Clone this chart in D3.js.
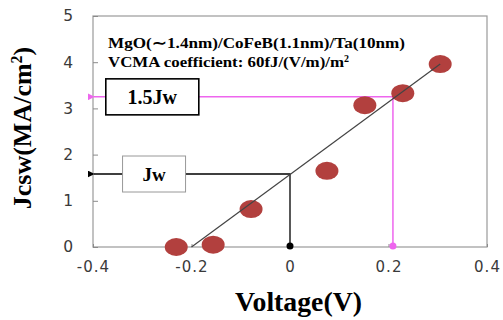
<!DOCTYPE html>
<html>
<head>
<meta charset="utf-8">
<script src="https://cdn.jsdelivr.net/npm/d3@7"></script>
<style>
  body { margin: 0; background: #fff; }
  svg { display: block; }
</style>
</head>
<body>
<svg id="chart" width="503" height="320"></svg>
<script>
const voltage = [-0.231, -0.156, -0.079, 0.075, 0.152, 0.229, 0.305];
const jcsw    = [0, 0.05, 0.82, 1.65, 3.07, 3.33, 3.96];

// fitted line ends
const fitV = [-0.2, 0.305];
const fitJ = [0, 3.96];

// guide markers (Jw at 0V, 1.5Jw at ~0.21V)
const guideV = [0, 0.209];
const guideJ = [1.58, 3.25];
const guideLabels = ['Jw', '1.5Jw'];

const xTicks = [-0.4, -0.2, 0, 0.2, 0.4];
const yTicks = [0, 1, 2, 3, 4, 5];

const noteLines = ['MgO(\u223C1.4nm)/CoFeB(1.1nm)/Ta(10nm)', 'VCMA coefficient: 60fJ/(V/m)/m'];

const svg = d3.select('#chart');
const margin = { top: 16, right: 16, bottom: 73, left: 93 };
const width = 503, height = 320;
const w = width - margin.left - margin.right;
const h = height - margin.top - margin.bottom;

const x = d3.scaleLinear().domain([-0.4, 0.4]).range([0, w]);
const y = d3.scaleLinear().domain([0, 5]).range([h, 0]);

const g = svg.append('g').attr('transform', `translate(${margin.left},${margin.top})`);

const serif = '"Liberation Serif", "Times New Roman", serif';
const sans = '"DejaVu Sans", Verdana, sans-serif';

// defs for arrows
const defs = svg.append('defs');
[['arr-black', '#000'], ['arr-pink', '#ee66ee']].forEach(([id, c]) => {
  defs.append('marker')
    .attr('id', id)
    .attr('viewBox', '0 0 10 10')
    .attr('refX', 1).attr('refY', 5)
    .attr('markerWidth', 7).attr('markerHeight', 7)
    .attr('markerUnits', 'userSpaceOnUse')
    .attr('orient', 'auto-start-reverse')
    .append('path').attr('d', 'M0,5 L10,0 L10,10 Z').attr('fill', c);
});

// plot box
g.append('rect')
  .attr('x', 0).attr('y', 0).attr('width', w).attr('height', h)
  .attr('fill', 'none').attr('stroke', '#9a9a9a').attr('stroke-width', 1.2);

// y axis ticks + labels
const yAxis = g.append('g')
  .call(d3.axisLeft(y).tickValues(yTicks).tickSize(-5).tickPadding(20).tickFormat(d3.format('d')));
yAxis.select('.domain').remove();
yAxis.selectAll('line').attr('stroke', '#8a8a8a');
yAxis.selectAll('text')
  .attr('font-family', sans).attr('font-size', 15.5).attr('fill', '#3a3a3a');

// x axis ticks + labels (plain hyphen like the original)
const xAxis = g.append('g')
  .attr('transform', `translate(0,${h})`)
  .call(d3.axisBottom(x).tickValues(xTicks).tickSize(-3).tickPadding(14)
    .tickFormat(d => d === 0 ? '0' : d.toFixed(1)));
xAxis.select('.domain').remove();
xAxis.selectAll('line').attr('stroke', '#8a8a8a');
xAxis.selectAll('text')
  .attr('font-family', sans).attr('font-size', 15).attr('letter-spacing', 1)
  .attr('fill', '#3a3a3a');

// guide lines (Jw black, 1.5Jw pink)
const guideColors = ['#000', '#ee66ee'];
const guideArrows = ['arr-black', 'arr-pink'];
guideV.forEach((v, i) => {
  g.append('path')
    .attr('d', `M${x(v)},${y(0)} L${x(v)},${y(guideJ[i])} L${x(-0.4) + 1},${y(guideJ[i])}`)
    .attr('fill', 'none')
    .attr('stroke', guideColors[i])
    .attr('stroke-width', i === 0 ? 1.3 : 1.5)
    .attr('marker-end', `url(#${guideArrows[i]})`);
  g.append('circle')
    .attr('cx', x(v)).attr('cy', y(0) - 1).attr('r', 3.5)
    .attr('fill', guideColors[i]);
});

// label boxes on the guides
const boxes = [
  { v: -0.34, w: 63, h: 36, size: 19, stroke: '#999', sw: 1 },
  { v: -0.374, w: 93, h: 36, size: 20, stroke: '#000', sw: 1.6 }
];
guideLabels.forEach((lab, i) => {
  const b = boxes[i];
  const bx = x(b.v), by = y(guideJ[i]) - b.h / 2;
  g.append('rect')
    .attr('x', bx).attr('y', by).attr('width', b.w).attr('height', b.h)
    .attr('fill', '#fff').attr('stroke', b.stroke).attr('stroke-width', b.sw);
  g.append('text')
    .attr('x', bx + b.w / 2).attr('y', by + b.h / 2)
    .attr('dy', '0.35em')
    .attr('text-anchor', 'middle')
    .attr('font-family', serif).attr('font-weight', 'bold').attr('font-size', b.size)
    .text(lab);
});

// data points
g.selectAll('.pt')
  .data(voltage)
  .enter().append('ellipse')
    .attr('class', 'pt')
    .attr('cx', d => x(d))
    .attr('cy', (d, i) => y(jcsw[i]))
    .attr('rx', 11.5).attr('ry', 9)
    .attr('fill', '#b2403e');

// fit line, drawn over the points
g.append('line')
  .attr('x1', x(fitV[0])).attr('y1', y(fitJ[0]))
  .attr('x2', x(fitV[1])).attr('y2', y(fitJ[1]))
  .attr('stroke', '#444').attr('stroke-width', 1.2);

// note text - the original is a bit stretched sideways
const note = g.append('text')
  .attr('font-family', serif).attr('font-weight', 'bold').attr('font-size', 14.5);
note.append('tspan').attr('x', 15).attr('y', 32)
  .attr('textLength', 297).attr('lengthAdjust', 'spacingAndGlyphs')
  .text(noteLines[0]);
note.append('tspan').attr('x', 15).attr('y', 51)
  .attr('textLength', 236).attr('lengthAdjust', 'spacingAndGlyphs')
  .text(noteLines[1]);
note.append('tspan').attr('dy', -5).attr('font-size', 10).text('2');

// axis titles
svg.append('text')
  .attr('x', 235).attr('y', 311)
  .attr('textLength', 127).attr('lengthAdjust', 'spacingAndGlyphs')
  .attr('font-family', serif).attr('font-weight', 'bold').attr('font-size', 27)
  .text('Voltage(V)');

const yt = svg.append('text')
  .attr('transform', `translate(31,${128}) rotate(-90)`)
  .attr('text-anchor', 'middle')
  .attr('font-family', serif).attr('font-weight', 'bold').attr('font-size', 26);
yt.append('tspan').text('Jcsw(MA/cm');
yt.append('tspan').attr('dy', -9).attr('font-size', 16).text('2');
yt.append('tspan').attr('dy', 9).text(')');
</script>
</body>
</html>
